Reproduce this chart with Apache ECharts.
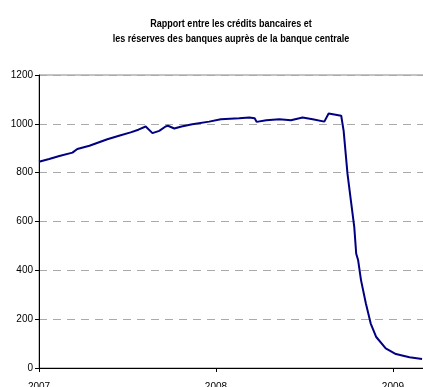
<!DOCTYPE html>
<html><head><meta charset="utf-8">
<script src="https://cdn.jsdelivr.net/npm/echarts@6/dist/echarts.min.js"></script>
<style>html,body{margin:0;padding:0;background:#fff}#c{width:423px;height:387px}</style>
</head><body><div id="c"></div>
<script>
var titleLines = ['Rapport entre les crédits bancaires et', 'les réserves des banques auprès de la banque centrale'];
var yTicks = [0, 200, 400, 600, 800, 1000, 1200];
var xTickYears = [2007, 2008, 2009];
var dates = ['2007-01-01','2007-01-22','2007-02-12','2007-03-11','2007-03-14','2007-03-21','2007-04-15','2007-05-22','2007-06-15','2007-07-09','2007-07-25','2007-08-09','2007-08-12','2007-08-23','2007-09-06','2007-09-19','2007-09-24','2007-10-07','2007-10-22','2007-11-13','2007-12-18','2008-01-11','2008-02-18','2008-03-10','2008-03-21','2008-03-25','2008-04-14','2008-05-11','2008-06-04','2008-06-28','2008-07-19','2008-08-12','2008-08-21','2008-09-16','2008-09-21','2008-09-29','2008-10-06','2008-10-13','2008-10-17','2008-10-21','2008-10-27','2008-11-06','2008-11-16','2008-11-27','2008-12-17','2009-01-07','2009-02-04','2009-03-02'];
var values = [845,856,868,882,876,897,910,937,951,965,976,989,996,962,971,989,992,981,989,998,1009,1019,1023,1026,1023,1008,1015,1019,1015,1026,1019,1009,1042,1033,971,795,686,577,468,441,359,264,182,128,80,57,44,37];

function toYear(s){
  var d = new Date(s + 'T00:00:00Z');
  var y = d.getUTCFullYear();
  var a = Date.UTC(y,0,1), b = Date.UTC(y+1,0,1);
  return y + (d.getTime()-a)/(b-a);
}
var data = dates.map(function(s,i){ return [toYear(s), values[i]]; });

var font = '"Liberation Sans", Arial, sans-serif';
var chart = echarts.init(document.getElementById('c'), null, {renderer:'canvas'});
chart.setOption({
  animation:false,
  graphic:[{type:'text', x:231, y:31, scaleX:0.82, scaleY:1, originX:0, originY:0,
    style:{text: titleLines.join('\n'), x:0, y:0, align:'center', verticalAlign:'middle',
      font:'bold 11px ' + font, fill:'#000', lineHeight:15}}],
  grid:{left:39, right:-2, top:75, bottom:19, outerBoundsMode:'none', containLabel:false,
    show:true, borderColor:'#888', borderWidth:1},
  xAxis:{type:'value', min:xTickYears[0], max:2009.181, interval:1,
    axisLine:{lineStyle:{color:'#000', width:1}},
    axisTick:{show:true, length:4, lineStyle:{color:'#000'}},
    axisLabel:{margin:14, color:'#000', fontFamily:font, fontSize:10, showMaxLabel:false,
      formatter:function(v){ return xTickYears.indexOf(Math.round(v))>=0 && Math.abs(v-Math.round(v))<1e-6 ? String(Math.round(v)) : ''; }},
    splitLine:{show:false}},
  yAxis:{type:'value', min:yTicks[0], max:yTicks[yTicks.length-1], interval:200,
    axisLine:{show:true, lineStyle:{color:'#000', width:1}},
    axisTick:{show:true, length:4, lineStyle:{color:'#000'}},
    axisLabel:{margin:6, color:'#000', fontFamily:font, fontSize:10, formatter:function(v){return String(v);}},
    splitLine:{show:true, lineStyle:{color:'#aaa', type:[8,6], width:1}}},
  series:[{type:'line', data:data, showSymbol:false, symbol:'none',
    lineStyle:{color:'#000080', width:2}}]
});
</script></body></html>
